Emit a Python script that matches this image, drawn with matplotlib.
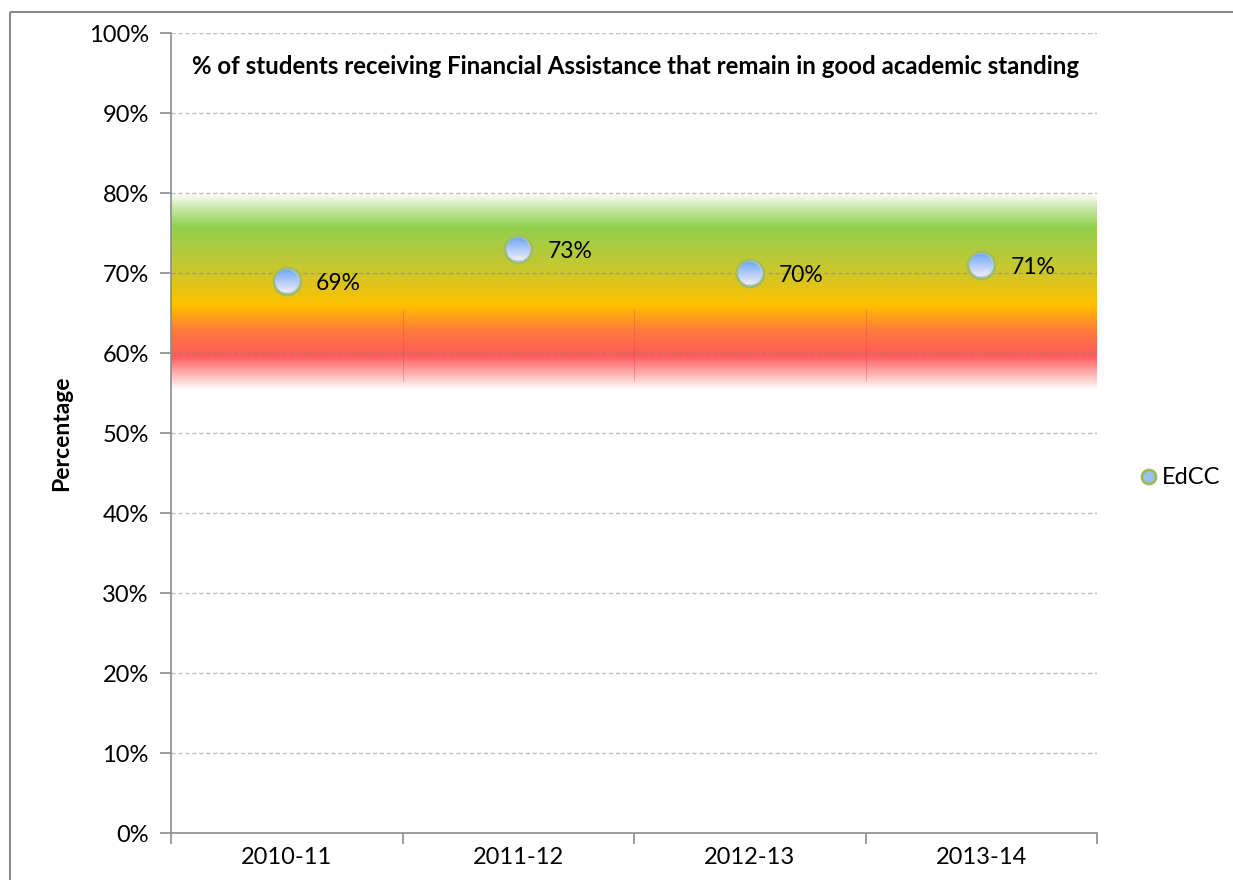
import numpy as np
import matplotlib
matplotlib.use('Agg')
import matplotlib.pyplot as plt
from matplotlib.colors import LinearSegmentedColormap
from matplotlib.patches import Circle
from matplotlib.lines import Line2D
from matplotlib.transforms import IdentityTransform

plt.rcParams['font.family'] = ['Lato', 'DejaVu Sans']

years = ['2010-11', '2011-12', '2012-13', '2013-14']
values = [69, 73, 70, 71]
series_name = 'EdCC'
title = '% of students receiving Financial Assistance that remain in good academic standing'
yticks = list(range(0, 101, 10))

# target band (bottom -> top) and its colours
band_low, band_high = 55.4, 80
band_stops = [(0.00, '#ffffff'), (0.08, '#ffb4b4'), (0.17, '#ff5c5c'), (0.30, '#ff7a3c'),
              (0.43, '#ffc000'), (0.62, '#c8c82e'), (0.83, '#92d050'), (0.93, '#cde8b0'),
              (1.00, '#ffffff')]

fig = plt.figure(figsize=(12.33, 8.8), dpi=100)
ax = fig.add_axes([171/1233, 47/880, (1097-171)/1233, (833-33)/880])

x = np.arange(len(years))
ax.set_xlim(-0.5, len(years) - 0.5)
ax.set_ylim(0, 100)

# gradient band
band_cmap = LinearSegmentedColormap.from_list('band', band_stops)
grad = np.linspace(0, 1, 256).reshape(-1, 1)
ax.imshow(grad, cmap=band_cmap, aspect='auto', origin='lower',
          extent=(-0.5, len(years) - 0.5, band_low, band_high), zorder=1)
ax.vlines(x[:-1] + 0.5, 56.5, 65.5, color='#ff2020', lw=0.6, alpha=0.3, zorder=1.5)

# grid
for t in yticks:
    ax.axhline(t, color='#808080', lw=1, ls=(0, (3, 2)), alpha=0.5, zorder=2)

# points
ax.scatter(x, values, s=380, facecolor='#bcd2f4', edgecolor='#a3bc68', lw=2, zorder=4)
fig.canvas.draw()
pt_cmap = LinearSegmentedColormap.from_list('pt', ['#f0ecf8', '#6aa6f8'])
r = 11.5
for xi, v in zip(x, values):
    cx, cy = ax.transData.transform((xi, v))
    x0, y0 = ax.transData.inverted().transform((cx - r, cy - r))
    x1, y1 = ax.transData.inverted().transform((cx + r, cy + r))
    im = ax.imshow(grad, cmap=pt_cmap, aspect='auto', origin='lower',
                   extent=(x0, x1, y0, y1), zorder=5)
    im.set_clip_path(Circle((cx, cy), r, transform=IdentityTransform()))
    ax.annotate(f'{v}%', (xi, v), xytext=(21, -1.5), textcoords='offset points',
                fontsize=16.5, va='center', ha='left', zorder=6)
ax.set_xlim(-0.5, len(years) - 0.5)
ax.set_ylim(0, 100)

# axes styling
for s in ['top', 'right']:
    ax.spines[s].set_visible(False)
for s in ['left', 'bottom']:
    ax.spines[s].set_color('#8c8c8c')
    ax.spines[s].set_linewidth(1.2)
ax.set_yticks(yticks)
ax.set_yticklabels([f'{t}%' for t in yticks], fontsize=17)
ax.set_xticks(np.arange(len(years) + 1) - 0.5)
ax.set_xticklabels([])
ax.set_xticks(x, minor=True)
ax.set_xticklabels(years, minor=True, fontsize=17)
ax.tick_params(axis='x', which='minor', length=0, pad=10)
ax.tick_params(axis='both', which='major', length=8, color='#8c8c8c', width=1.2)
ax.tick_params(axis='y', pad=8)
ax.set_ylabel('Percentage', fontsize=16.5, fontweight='bold', labelpad=12)

fig.text(636/1233, 1 - 66/880, title, fontsize=17.3, fontweight='bold', ha='center', va='center')

# legend
fig.patches.append(Circle((1149, 880 - 477), 7, transform=IdentityTransform(),
                          facecolor='#9cc0f0', edgecolor='#9bbb59', lw=2, figure=fig))
fig.text(1162/1233, 1 - 477/880, series_name, fontsize=17, ha='left', va='center')

# outer frame (top and left edges only visible)
fig.add_artist(Line2D([10/1233, 1.02], [1 - 12/880, 1 - 12/880], color='#8c8c8c', lw=1.5,
                      transform=fig.transFigure, solid_capstyle='butt'))
fig.add_artist(Line2D([10/1233, 10/1233], [-0.02, 1 - 12/880], color='#8c8c8c', lw=1.5,
                      transform=fig.transFigure, solid_capstyle='butt'))

fig.savefig('out.png', dpi=100)
